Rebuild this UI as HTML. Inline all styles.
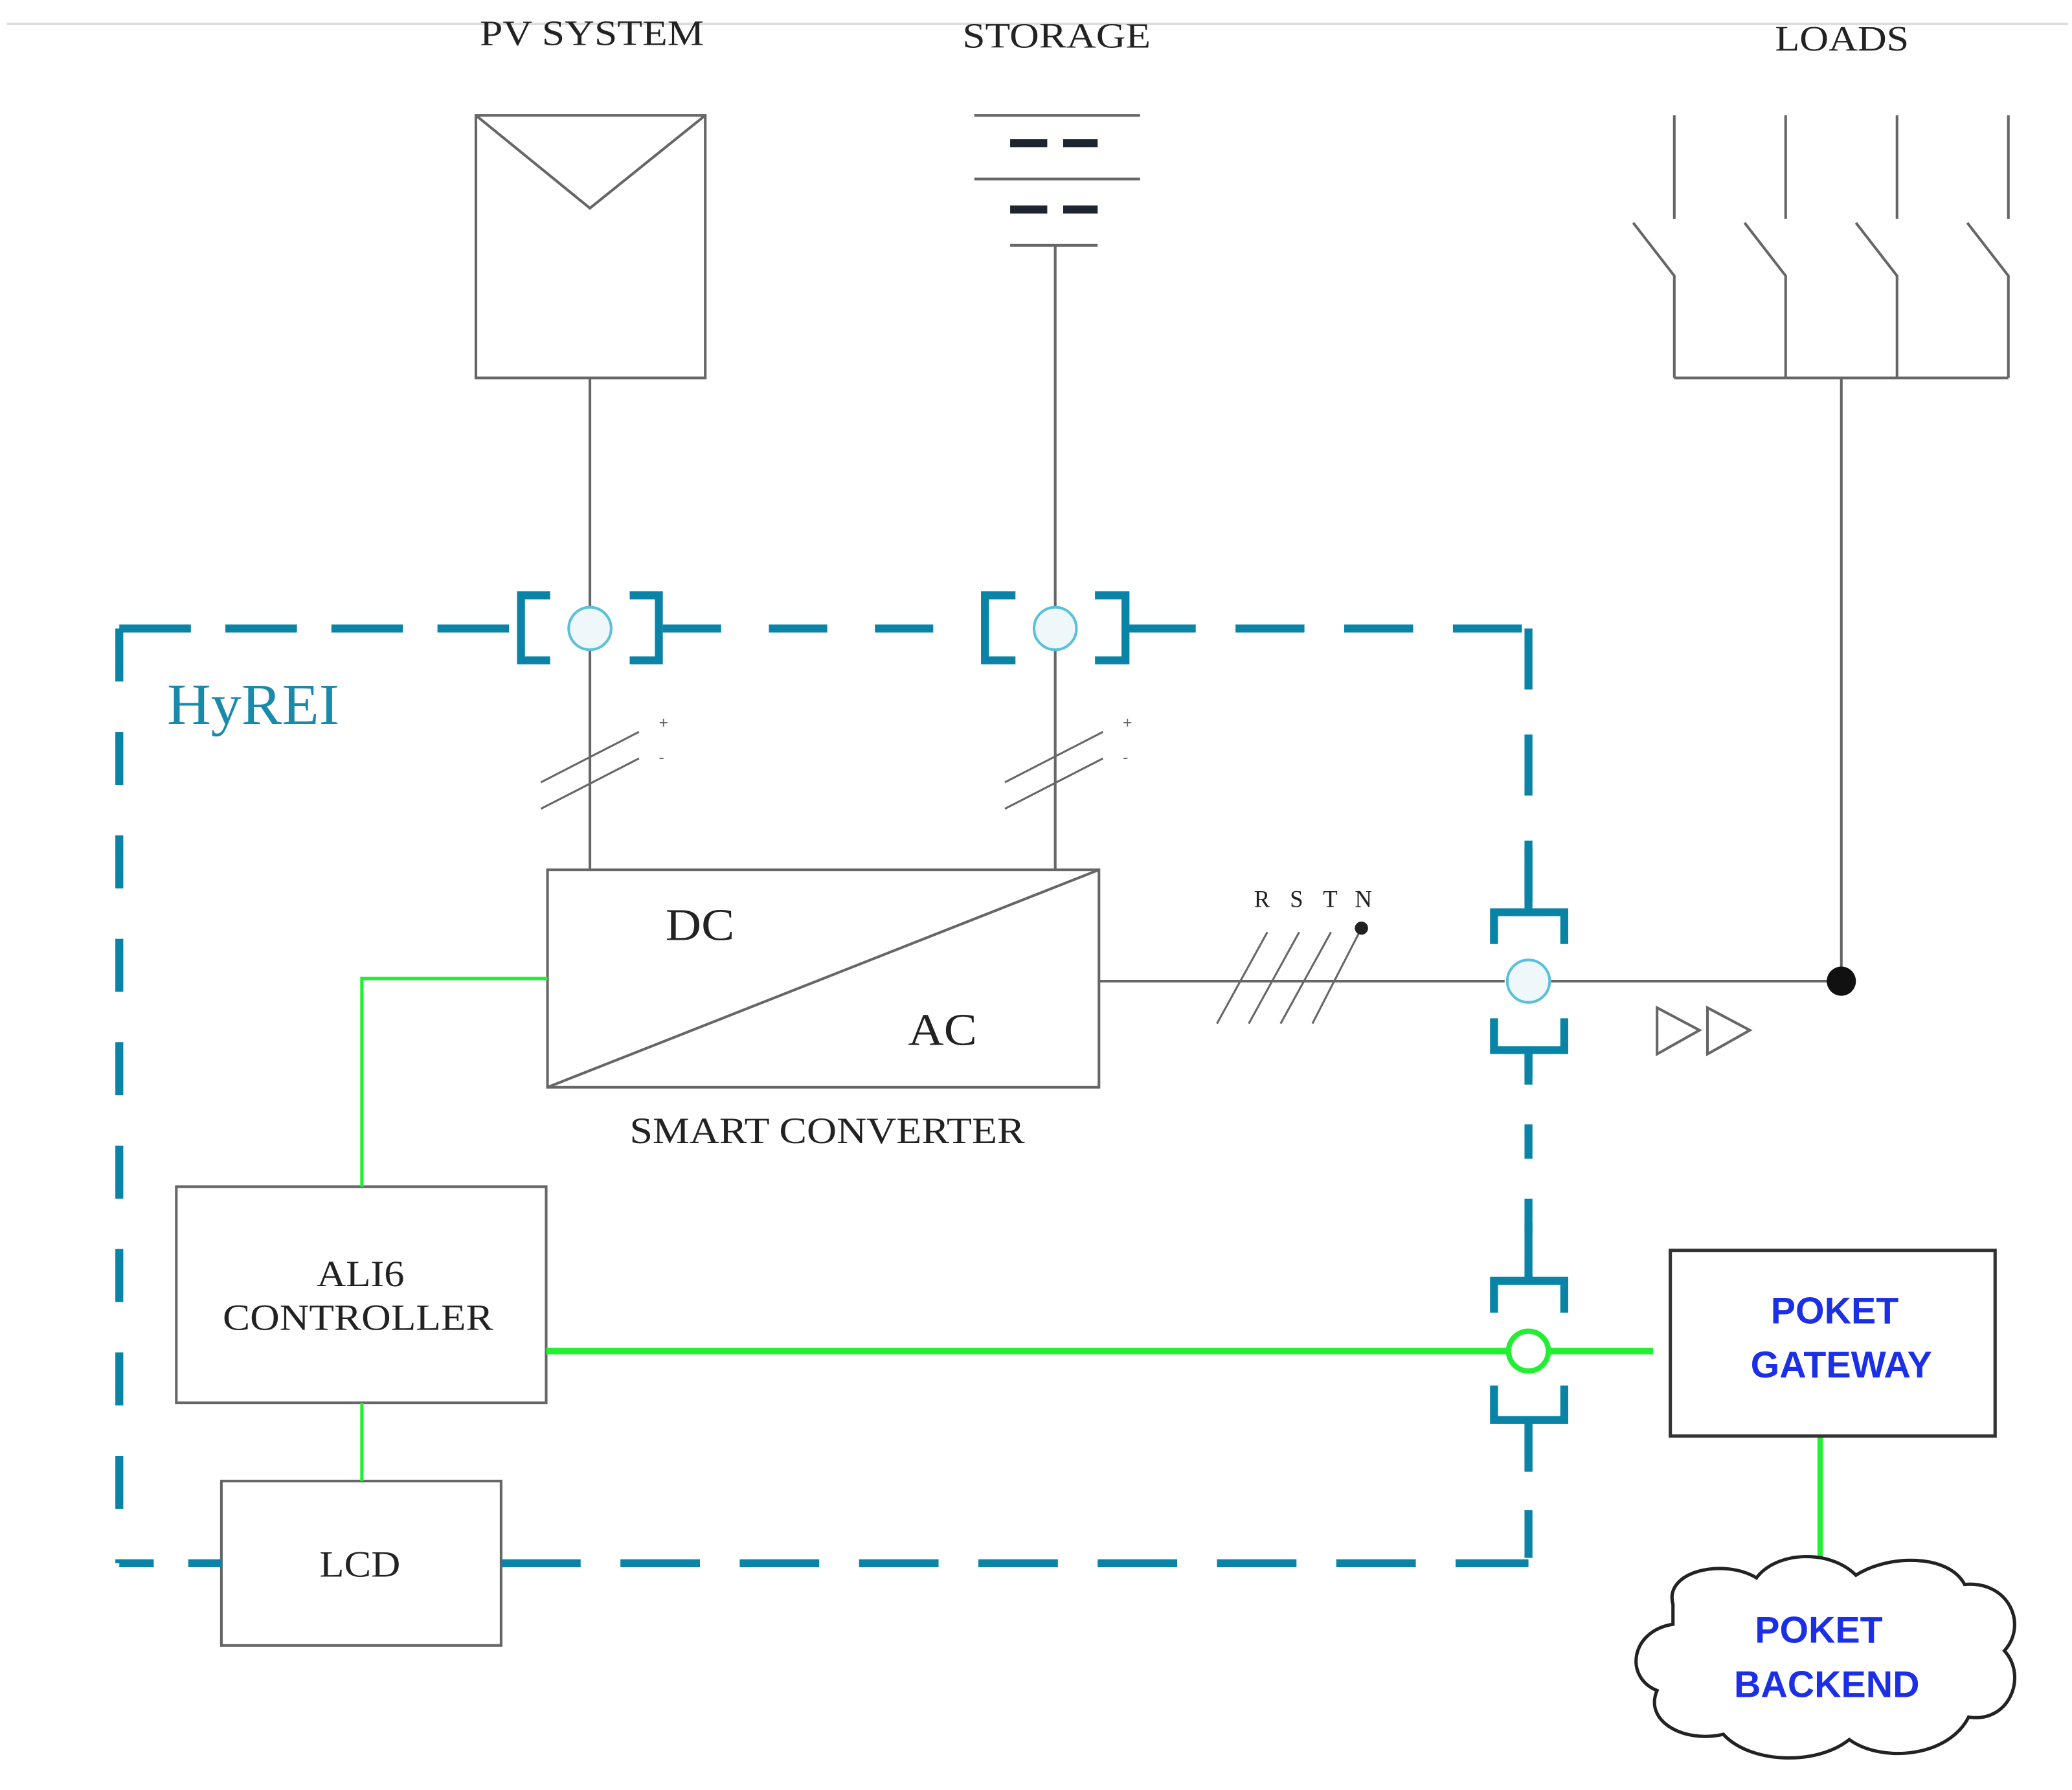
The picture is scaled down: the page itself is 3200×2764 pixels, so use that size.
<!DOCTYPE html>
<html><head><meta charset="utf-8"><style>
html,body{margin:0;padding:0;background:#fff;}
svg{display:block;}
.s{font-family:"Liberation Serif",serif;fill:#222;}
.b{font-family:"Liberation Sans",sans-serif;font-weight:bold;fill:#1b2fe6;}
</style></head><body>
<svg width="3200" height="2764" viewBox="0 0 1563 1350" xmlns="http://www.w3.org/2000/svg">
<rect width="1563" height="1350" fill="#fff"/>
<line x1="5" y1="18" x2="1560" y2="18" stroke="#ddd" stroke-width="2"/>
<text class="s" x="362" y="34" font-size="27" textLength="169" lengthAdjust="spacingAndGlyphs">PV SYSTEM</text>
<text class="s" x="726" y="36" font-size="27" textLength="142" lengthAdjust="spacingAndGlyphs">STORAGE</text>
<text class="s" x="1339" y="38" font-size="27" textLength="101" lengthAdjust="spacingAndGlyphs">LOADS</text>
<g stroke="#666" stroke-width="2" fill="none">
<rect x="359" y="87" width="173" height="198"/>
<polyline points="359,87 445,157 532,87"/>
<line x1="445" y1="285" x2="445" y2="458"/>
<line x1="735" y1="87" x2="860" y2="87"/>
<line x1="735" y1="135" x2="860" y2="135"/>
<line x1="762" y1="185" x2="828" y2="185"/>
<line x1="796" y1="185" x2="796" y2="458"/>
<line x1="1263" y1="87" x2="1263" y2="165"/><line x1="1347" y1="87" x2="1347" y2="165"/>
<line x1="1431" y1="87" x2="1431" y2="165"/><line x1="1515" y1="87" x2="1515" y2="165"/>
<polyline points="1232,168 1263,208 1263,285"/>
<polyline points="1316,168 1347,208 1347,285"/>
<polyline points="1400,168 1431,208 1431,285"/>
<polyline points="1484,168 1515,208 1515,285"/>
<line x1="1263" y1="285" x2="1515" y2="285"/>
<line x1="1389" y1="285" x2="1389" y2="740"/>
<line x1="445" y1="490" x2="445" y2="656"/>
<line x1="796" y1="490" x2="796" y2="656"/>
<rect x="413" y="656" width="416" height="164"/>
<line x1="413" y1="820" x2="829" y2="656"/>
<line x1="829" y1="740" x2="1135" y2="740"/>
<line x1="1170" y1="740" x2="1389" y2="740"/>
<line x1="408" y1="590" x2="482" y2="552" stroke-width="1.5"/>
<line x1="408" y1="610" x2="482" y2="572" stroke-width="1.5"/>
<line x1="758" y1="590" x2="832" y2="552" stroke-width="1.5"/>
<line x1="758" y1="610" x2="832" y2="572" stroke-width="1.5"/>
<line x1="918" y1="772" x2="956" y2="703" stroke-width="1.5"/>
<line x1="942" y1="772" x2="980" y2="703" stroke-width="1.5"/>
<line x1="966" y1="772" x2="1004" y2="703" stroke-width="1.5"/>
<line x1="990" y1="772" x2="1027" y2="700" stroke-width="1.5"/>
<rect x="133" y="895" width="279" height="163"/>
<rect x="167" y="1117" width="211" height="124"/>
<polygon points="1250,760 1282,777 1250,795"/>
<polygon points="1288,760 1320,777 1288,795"/>
</g>
<g fill="#1d2530">
<rect x="762" y="105" width="28" height="6"/><rect x="802" y="105" width="26" height="6"/>
<rect x="762" y="155" width="28" height="6"/><rect x="802" y="155" width="26" height="6"/>
</g>
<text x="497" y="549" font-size="12" fill="#666" font-family="Liberation Sans,sans-serif">+</text>
<text x="497" y="575" font-size="12" fill="#666" font-family="Liberation Sans,sans-serif">-</text>
<text x="847" y="549" font-size="12" fill="#666" font-family="Liberation Sans,sans-serif">+</text>
<text x="847" y="575" font-size="12" fill="#666" font-family="Liberation Sans,sans-serif">-</text>
<circle cx="1027" cy="700" r="5" fill="#222"/>
<circle cx="1389" cy="740" r="11" fill="#111"/>
<text class="s" x="946" y="684" font-size="18">R</text>
<text class="s" x="973" y="684" font-size="18">S</text>
<text class="s" x="998" y="684" font-size="18">T</text>
<text class="s" x="1022" y="684" font-size="18">N</text>
<text class="s" x="502" y="709" font-size="34" textLength="52" lengthAdjust="spacingAndGlyphs">DC</text>
<text class="s" x="685" y="788" font-size="34" textLength="52" lengthAdjust="spacingAndGlyphs">AC</text>
<text class="s" x="475" y="862" font-size="28" textLength="298" lengthAdjust="spacingAndGlyphs">SMART CONVERTER</text>
<text class="s" x="239" y="970" font-size="28" textLength="66" lengthAdjust="spacingAndGlyphs">ALI6</text>
<text class="s" x="168" y="1003" font-size="28" textLength="204" lengthAdjust="spacingAndGlyphs">CONTROLLER</text>
<text class="s" x="241" y="1189" font-size="28" textLength="61" lengthAdjust="spacingAndGlyphs">LCD</text>
<g stroke="#0a84a6" stroke-width="6" fill="none">
<line x1="90" y1="474" x2="390" y2="474" stroke-dasharray="54,26"/>
<line x1="500" y1="474" x2="740" y2="474" stroke-dasharray="44,36"/>
<line x1="850" y1="474" x2="1153" y2="474" stroke-dasharray="52,30"/>
<line x1="90" y1="474" x2="90" y2="1179" stroke-dasharray="40,38"/>
<line x1="1153" y1="474" x2="1153" y2="688" stroke-dasharray="46,34"/>
<line x1="1153" y1="792" x2="1153" y2="965" stroke-dasharray="26,30"/>
<line x1="1153" y1="1073" x2="1153" y2="1179" stroke-dasharray="36,30"/>
<line x1="90" y1="1179" x2="167" y2="1179" stroke-dasharray="26,26"/>
<line x1="378" y1="1179" x2="1153" y2="1179" stroke-dasharray="60,30"/>
<polyline points="415,449 393,449 393,498 415,498"/>
<polyline points="475,449 497,449 497,498 475,498"/>
<polyline points="766,449 743,449 743,498 766,498"/>
<polyline points="826,449 849,449 849,498 826,498"/>
<polyline points="1127,712 1127,688 1180,688 1180,712"/>
<polyline points="1127,768 1127,792 1180,792 1180,768"/>
<line x1="1153" y1="640" x2="1153" y2="688"/>
<line x1="1153" y1="792" x2="1153" y2="812"/>
<polyline points="1127,990 1127,966 1180,966 1180,990"/>
<polyline points="1127,1045 1127,1071 1180,1071 1180,1045"/>
<line x1="1153" y1="922" x2="1153" y2="966"/>
<line x1="1153" y1="1071" x2="1153" y2="1110"/>
</g>
<circle cx="445" cy="474" r="16" fill="#eef8fb" stroke="#5bc0d8" stroke-width="2"/>
<circle cx="796" cy="474" r="16" fill="#eef8fb" stroke="#5bc0d8" stroke-width="2"/>
<circle cx="1153" cy="740" r="16" fill="#eef8fb" stroke="#5bc0d8" stroke-width="2"/>
<text x="126" y="546" font-size="44" fill="#1a8aab" font-family="Liberation Serif,serif" textLength="130" lengthAdjust="spacingAndGlyphs">HyREI</text>
<g stroke="#22ee33" fill="none">
<polyline points="273,895 273,738 413,738" stroke-width="2.5"/>
<line x1="273" y1="1058" x2="273" y2="1117" stroke-width="2.5"/>
<line x1="412" y1="1019" x2="1137" y2="1019" stroke-width="5"/>
<line x1="1169" y1="1019" x2="1247" y2="1019" stroke-width="5"/>
<line x1="1373" y1="1083" x2="1373" y2="1180" stroke-width="4"/>
</g>
<circle cx="1153" cy="1019" r="15" fill="#fff" stroke="#22ee33" stroke-width="4"/>
<rect x="1260" y="943" width="245" height="140" fill="#fff" stroke="#333" stroke-width="2.5"/>
<text class="b" x="1384" y="998" font-size="28" text-anchor="middle">POKET</text>
<text class="b" x="1389" y="1039" font-size="28" text-anchor="middle">GATEWAY</text>
<path d="M1262,1210 C1255,1185 1300,1175 1325,1190 C1340,1170 1380,1168 1400,1188 C1425,1172 1470,1172 1482,1195 C1515,1192 1530,1225 1512,1245 C1530,1265 1515,1300 1485,1295 C1470,1325 1420,1330 1395,1312 C1370,1332 1320,1330 1300,1308 C1270,1315 1240,1298 1250,1275 C1225,1265 1230,1230 1262,1225 Z" fill="#fff" stroke="#222" stroke-width="2.5"/>
<text class="b" x="1372" y="1239" font-size="28" text-anchor="middle">POKET</text>
<text class="b" x="1378" y="1280" font-size="28" text-anchor="middle">BACKEND</text>
</svg>
</body></html>
